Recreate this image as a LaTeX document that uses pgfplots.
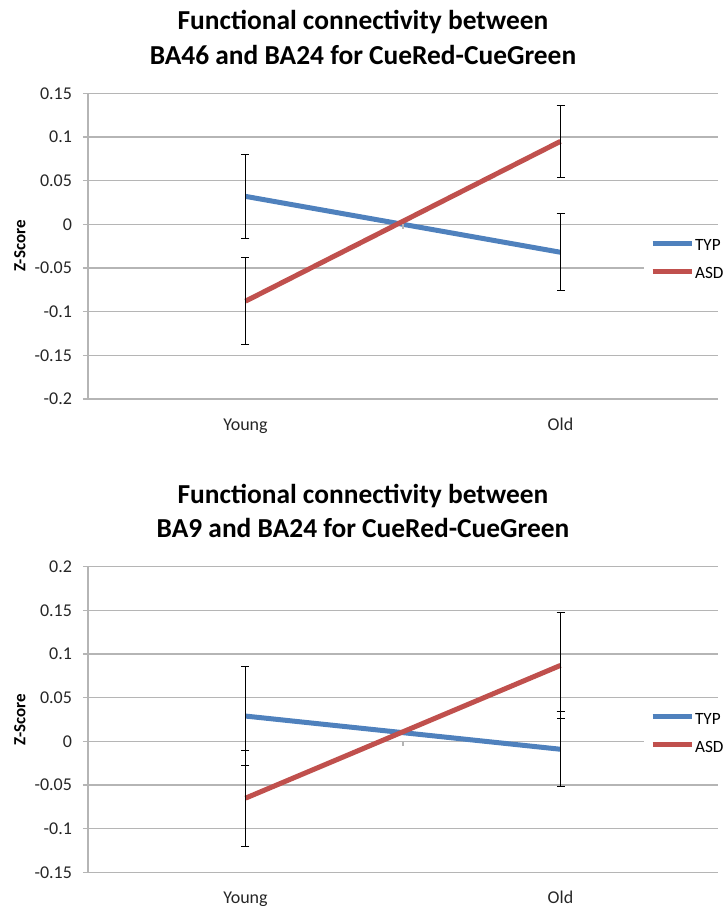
\documentclass[border=0pt]{standalone}
\usepackage{fontspec}
\setmainfont{Carlito}
\usepackage{pgfplots}
\pgfplotsset{compat=1.18}
\definecolor{typblue}{HTML}{4F81BD}
\definecolor{asdred}{HTML}{C0504D}
\definecolor{gridgray}{HTML}{B5B5B5}

\tikzset{ztitle/.style={font=\bfseries\fontsize{13.7}{16}\selectfont, anchor=base}}

\pgfplotsset{
  zchart/.style={
    scale only axis, width=315pt, height=152.85pt, clip=false,
    xmin=0.5, xmax=2.5, xtick={1,2}, xticklabels={Young,Old},
    x tick style={draw=none},
    axis lines*=left, axis line style={gridgray, line width=0.6pt, -},
    ymajorgrids, grid style={gridgray, line width=0.6pt},
    y tick style={gridgray, line width=0.6pt},
    tick align=outside, major tick length=2.5pt,
    ticklabel style={font=\fontsize{9}{10}\selectfont, text=black!85},
    xticklabel style={anchor=base, yshift=-13pt},
    yticklabel style={xshift=-2pt},
    ylabel={Z-Score},
    ylabel style={font=\bfseries\fontsize{8.5}{10}\selectfont,
      at={(axis description cs:-0.108,0.5)}, anchor=center},
    legend style={at={(axis description cs:0.882,0.460)}, anchor=west,
      draw=none, fill=white, inner xsep=3pt, inner ysep=3pt,
      row sep=6.5pt, font=\fontsize{8.6}{10}\selectfont,
      nodes={inner sep=0.5pt, text height=6.5pt, text depth=0pt}},
    legend cell align=left,
    legend image code/.code={\draw[#1] (0pt,0.4pt) -- (19.5pt,0.4pt);},
    ebar/.style={error bars/.cd, y dir=both, y explicit,
      error bar style={black, line width=0.5pt},
      error mark options={rotate=90, black, mark size=2pt, line width=0.5pt}},
  },
}

\begin{document}
\begin{tikzpicture}
\path[use as bounding box] (-44pt,46.65pt) rectangle (317.5pt,-406.35pt);

% top chart
\begin{axis}[zchart, at={(0,0)}, anchor=north west,
  ymin=-0.2, ymax=0.15,
  ytick={-0.2,-0.15,-0.1,-0.05,0,0.05,0.1,0.15},
  yticklabels={-0.2,-0.15,-0.1,-0.05,0,0.05,0.1,0.15}]
\addplot[typblue, line width=2.5pt, ebar] coordinates {
  (1,0.032) +- (0,0.048)
  (2,-0.032) +- (0,0.044)
};
\addplot[asdred, line width=2.5pt, ebar] coordinates {
  (1,-0.088) +- (0,0.050)
  (2,0.095) +- (0,0.041)
};
\legend{TYP,ASD}
\draw[gridgray, line width=0.6pt] (axis cs:1.5,0) -- ++(0pt,-2.5pt);
\node[ztitle] at (axis description cs:0.4365,1.2077) {Functional connectivity between};
\node[ztitle] at (axis description cs:0.4365,1.0958) {BA46 and BA24 for CueRed-CueGreen};
\end{axis}

% bottom chart
\begin{axis}[zchart, at={(0,-236.7pt)}, anchor=north west,
  ymin=-0.15, ymax=0.2,
  ytick={-0.15,-0.1,-0.05,0,0.05,0.1,0.15,0.2},
  yticklabels={-0.15,-0.1,-0.05,0,0.05,0.1,0.15,0.2}]
\addplot[typblue, line width=2.5pt, ebar] coordinates {
  (1,0.029) +- (0,0.057)
  (2,-0.009) +- (0,0.043)
};
\addplot[asdred, line width=2.5pt, ebar] coordinates {
  (1,-0.065) +- (0,0.055)
  (2,0.087) +- (0,0.061)
};
\legend{TYP,ASD}
\draw[gridgray, line width=0.6pt] (axis cs:1.5,0) -- ++(0pt,-2.5pt);
\node[ztitle] at (axis description cs:0.4365,1.2077) {Functional connectivity between};
\node[ztitle] at (axis description cs:0.4365,1.0958) {BA9 and BA24 for CueRed-CueGreen};
\end{axis}
\end{tikzpicture}
\end{document}
